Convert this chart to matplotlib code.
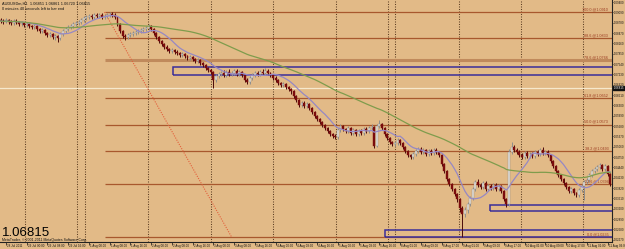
import matplotlib
matplotlib.use("Agg")
import matplotlib.pyplot as plt
import matplotlib.transforms as mtransforms
from matplotlib.patches import Rectangle
import pandas as pd

# ---------------- data ----------------
FIRST_OPEN = 1.0886
CLOSE = [
    1.0883, 1.0880, 1.0886, 1.0880, 1.0877, 1.0883, 1.0880, 1.0874, 1.0877, 1.0871,
    1.0874, 1.0868, 1.0865, 1.0868, 1.0859, 1.0853, 1.0856, 1.0847, 1.0841, 1.0844,
    1.0835, 1.0838, 1.0832, 1.0844, 1.0853, 1.0859, 1.0865, 1.0868, 1.0874, 1.0877,
    1.0880, 1.0886, 1.0892, 1.0895, 1.0898, 1.0895, 1.0901, 1.0898, 1.0901, 1.0895,
    1.0898, 1.0901, 1.0904, 1.0901, 1.0895, 1.0874, 1.0853, 1.0838, 1.0835, 1.0841,
    1.0844, 1.0847, 1.0850, 1.0853, 1.0856, 1.0859, 1.0862, 1.0868, 1.0859, 1.0847,
    1.0835, 1.0823, 1.0814, 1.0805, 1.0799, 1.0793, 1.0796, 1.0790, 1.0787, 1.0781,
    1.0784, 1.0778, 1.0772, 1.0775, 1.0769, 1.0763, 1.0766, 1.0757, 1.0751, 1.0742,
    1.0736, 1.0730, 1.0706, 1.0718, 1.0724, 1.0727, 1.0721, 1.0730, 1.0724, 1.0727,
    1.0733, 1.0724, 1.0730, 1.0721, 1.0706, 1.0700, 1.0712, 1.0721, 1.0727, 1.0724,
    1.0730, 1.0727, 1.0733, 1.0727, 1.0721, 1.0712, 1.0706, 1.0697, 1.0691, 1.0694,
    1.0685, 1.0679, 1.0673, 1.0658, 1.0646, 1.0631, 1.0637, 1.0628, 1.0634, 1.0622,
    1.0610, 1.0598, 1.0589, 1.0580, 1.0571, 1.0562, 1.0553, 1.0544, 1.0538, 1.0535,
    1.0556, 1.0568, 1.0559, 1.0553, 1.0562, 1.0547, 1.0556, 1.0544, 1.0553, 1.0547,
    1.0559, 1.0553, 1.0562, 1.0565, 1.0508, 1.0568, 1.0574, 1.0562, 1.0544, 1.0532,
    1.0520, 1.0514, 1.0517, 1.0526, 1.0517, 1.0505, 1.0493, 1.0481, 1.0475, 1.0484,
    1.0493, 1.0499, 1.0490, 1.0496, 1.0484, 1.0493, 1.0487, 1.0496, 1.0490, 1.0481,
    1.0454, 1.0433, 1.0409, 1.0394, 1.0379, 1.0364, 1.0349, 1.0322, 1.0304, 1.0316,
    1.0334, 1.0352, 1.0379, 1.0400, 1.0391, 1.0385, 1.0397, 1.0379, 1.0388, 1.0382,
    1.0391, 1.0379, 1.0388, 1.0373, 1.0349, 1.0334, 1.0490, 1.0505, 1.0496, 1.0490,
    1.0481, 1.0475, 1.0487, 1.0478, 1.0484, 1.0478, 1.0490, 1.0484, 1.0496, 1.0487,
    1.0490, 1.0481, 1.0463, 1.0448, 1.0433, 1.0421, 1.0409, 1.0397, 1.0385, 1.0373,
    1.0379, 1.0367, 1.0361, 1.0376, 1.0388, 1.0400, 1.0406, 1.0421, 1.0433, 1.0439,
    1.0445, 1.0451, 1.0439, 1.0448, 1.0424, 1.0394,
]
HIGH = [
    1.0892, 1.0889, 1.0892, 1.0890, 1.0886, 1.0889, 1.0889, 1.0884, 1.0883, 1.0881,
    1.0880, 1.0878, 1.0872, 1.0874, 1.0871, 1.0862, 1.0862, 1.0859, 1.0850, 1.0850,
    1.0847, 1.0844, 1.0841, 1.0850, 1.0859, 1.0865, 1.0871, 1.0874, 1.0880, 1.0883,
    1.0886, 1.0892, 1.0898, 1.0901, 1.0904, 1.0904, 1.0907, 1.0907, 1.0907, 1.0907,
    1.0904, 1.0907, 1.0910, 1.0910, 1.0907, 1.0898, 1.0877, 1.0856, 1.0844, 1.0847,
    1.0850, 1.0853, 1.0856, 1.0859, 1.0862, 1.0865, 1.0868, 1.0874, 1.0871, 1.0862,
    1.0850, 1.0838, 1.0826, 1.0817, 1.0811, 1.0802, 1.0802, 1.0799, 1.0796, 1.0790,
    1.0790, 1.0787, 1.0781, 1.0781, 1.0778, 1.0772, 1.0772, 1.0769, 1.0760, 1.0754,
    1.0745, 1.0739, 1.0733, 1.0724, 1.0730, 1.0733, 1.0736, 1.0736, 1.0739, 1.0733,
    1.0739, 1.0739, 1.0736, 1.0733, 1.0724, 1.0712, 1.0718, 1.0727, 1.0733, 1.0733,
    1.0736, 1.0739, 1.0742, 1.0739, 1.0730, 1.0724, 1.0718, 1.0709, 1.0700, 1.0700,
    1.0697, 1.0688, 1.0682, 1.0676, 1.0661, 1.0649, 1.0643, 1.0643, 1.0640, 1.0637,
    1.0625, 1.0613, 1.0601, 1.0592, 1.0583, 1.0574, 1.0565, 1.0556, 1.0547, 1.0544,
    1.0562, 1.0574, 1.0571, 1.0562, 1.0568, 1.0565, 1.0562, 1.0559, 1.0559, 1.0559,
    1.0565, 1.0565, 1.0568, 1.0574, 1.0568, 1.0574, 1.0586, 1.0577, 1.0565, 1.0547,
    1.0535, 1.0523, 1.0523, 1.0532, 1.0529, 1.0520, 1.0508, 1.0496, 1.0484, 1.0490,
    1.0499, 1.0505, 1.0505, 1.0502, 1.0499, 1.0499, 1.0499, 1.0502, 1.0502, 1.0493,
    1.0484, 1.0457, 1.0436, 1.0412, 1.0397, 1.0382, 1.0367, 1.0352, 1.0328, 1.0325,
    1.0340, 1.0358, 1.0385, 1.0406, 1.0409, 1.0397, 1.0403, 1.0403, 1.0394, 1.0394,
    1.0397, 1.0397, 1.0394, 1.0391, 1.0376, 1.0352, 1.0499, 1.0520, 1.0511, 1.0502,
    1.0496, 1.0487, 1.0493, 1.0493, 1.0490, 1.0490, 1.0496, 1.0496, 1.0502, 1.0505,
    1.0496, 1.0496, 1.0484, 1.0466, 1.0451, 1.0436, 1.0424, 1.0412, 1.0400, 1.0388,
    1.0385, 1.0382, 1.0370, 1.0382, 1.0394, 1.0406, 1.0412, 1.0427, 1.0439, 1.0445,
    1.0451, 1.0457, 1.0454, 1.0454, 1.0451, 1.0427,
]
LOW = [
    1.0877, 1.0874, 1.0877, 1.0874, 1.0871, 1.0871, 1.0874, 1.0868, 1.0868, 1.0865,
    1.0865, 1.0862, 1.0859, 1.0859, 1.0853, 1.0847, 1.0847, 1.0841, 1.0835, 1.0835,
    1.0829, 1.0826, 1.0820, 1.0826, 1.0838, 1.0847, 1.0853, 1.0859, 1.0862, 1.0868,
    1.0871, 1.0874, 1.0880, 1.0886, 1.0889, 1.0889, 1.0889, 1.0892, 1.0892, 1.0889,
    1.0889, 1.0892, 1.0895, 1.0895, 1.0889, 1.0868, 1.0847, 1.0832, 1.0826, 1.0829,
    1.0835, 1.0838, 1.0841, 1.0844, 1.0847, 1.0850, 1.0853, 1.0856, 1.0853, 1.0841,
    1.0829, 1.0817, 1.0808, 1.0799, 1.0793, 1.0787, 1.0787, 1.0784, 1.0781, 1.0775,
    1.0775, 1.0772, 1.0766, 1.0766, 1.0763, 1.0757, 1.0757, 1.0751, 1.0745, 1.0736,
    1.0730, 1.0724, 1.0682, 1.0700, 1.0712, 1.0718, 1.0715, 1.0715, 1.0718, 1.0718,
    1.0721, 1.0718, 1.0718, 1.0715, 1.0700, 1.0694, 1.0694, 1.0706, 1.0715, 1.0718,
    1.0718, 1.0721, 1.0721, 1.0721, 1.0715, 1.0706, 1.0700, 1.0691, 1.0685, 1.0685,
    1.0679, 1.0673, 1.0664, 1.0652, 1.0640, 1.0625, 1.0625, 1.0622, 1.0622, 1.0616,
    1.0604, 1.0592, 1.0583, 1.0574, 1.0565, 1.0556, 1.0547, 1.0538, 1.0532, 1.0529,
    1.0529, 1.0550, 1.0553, 1.0547, 1.0547, 1.0541, 1.0541, 1.0538, 1.0538, 1.0541,
    1.0541, 1.0547, 1.0547, 1.0556, 1.0502, 1.0505, 1.0562, 1.0556, 1.0538, 1.0526,
    1.0514, 1.0508, 1.0508, 1.0511, 1.0511, 1.0499, 1.0487, 1.0475, 1.0469, 1.0469,
    1.0478, 1.0487, 1.0484, 1.0484, 1.0478, 1.0478, 1.0481, 1.0481, 1.0484, 1.0475,
    1.0448, 1.0427, 1.0403, 1.0388, 1.0373, 1.0358, 1.0340, 1.0310, 1.0235, 1.0295,
    1.0307, 1.0328, 1.0346, 1.0373, 1.0385, 1.0379, 1.0379, 1.0373, 1.0373, 1.0376,
    1.0376, 1.0373, 1.0373, 1.0367, 1.0343, 1.0325, 1.0328, 1.0484, 1.0490, 1.0484,
    1.0475, 1.0469, 1.0469, 1.0472, 1.0472, 1.0472, 1.0472, 1.0478, 1.0478, 1.0481,
    1.0481, 1.0475, 1.0457, 1.0442, 1.0427, 1.0415, 1.0403, 1.0391, 1.0379, 1.0367,
    1.0367, 1.0361, 1.0355, 1.0355, 1.0370, 1.0346, 1.0394, 1.0400, 1.0415, 1.0427,
    1.0433, 1.0439, 1.0433, 1.0433, 1.0418, 1.0388,
]
OPEN = [FIRST_OPEN] + CLOSE[:-1]

X_LABELS = [
    "28 Jul 2011", "29 Jul 00:00", "29 Jul 08:00", "29 Jul 16:00",
    "1 Aug 00:00", "1 Aug 08:00", "1 Aug 16:00", "2 Aug 00:00", "2 Aug 08:00",
    "2 Aug 16:00", "3 Aug 00:00", "3 Aug 08:00", "3 Aug 16:00", "4 Aug 00:00",
    "4 Aug 08:00", "4 Aug 16:00", "5 Aug 00:00", "5 Aug 08:00", "5 Aug 16:00",
    "8 Aug 01:00", "8 Aug 09:00", "8 Aug 17:00", "9 Aug 01:00", "9 Aug 09:00",
    "9 Aug 17:00", "10 Aug 01:00", "10 Aug 09:00", "10 Aug 17:00",
    "11 Aug 01:00", "11 Aug 09:00",
]
SEPARATORS = [9.5, 29.4, 32.4, 56.8, 81.2, 104.9, 129.2, 149.3, 152.1, 176.7, 200.6, 224.5]

FIB_LEVELS = [0.0, 23.6, 38.2, 50.0, 61.8, 78.6, 88.6, 100.0]
FIB_HIGH = 1.0910
FIB_LOW = 1.0235
FIB_BAR_HIGH = 40
FIB_BAR_LOW = 89

RECT_LEFT = [66.5, 188.5, 148.0]
RECT_BOTTOM = [1.0721, 1.0314, 1.0235]
RECT_TOP = [1.0745, 1.0331, 1.0256]

BID = 1.06815
SYMBOL_LINE = "AUDUSDm,H1  1.06851 1.06861 1.06720 1.06815"
TIMER_LINE = "0 minutes 40 seconds left to bar end"
COPYRIGHT = "MetaTrader, \u00a9 2001-2011 MetaQuotes Software Corp."
Y_TOP_TICK = 1.0940
Y_TICK_STEP = 0.0031

# ---------------- style ----------------
BG = "#E2BA87"
BEAR = "#7A0C0C"
BULL_FACE = "#E6E0D6"
BULL_EDGE = "#8E8E8E"
FIB_COLOR = "#A8582E"
BOX_COLOR = "#3A2E9A"
SMALL_FONT = "Liberation Sans"

W, H, DPI = 625, 249, 100
fig = plt.figure(figsize=(W / DPI, H / DPI), dpi=DPI, facecolor=BG)
ax_l, ax_r = 0.0, 612 / W
ax_b, ax_t = 7 / H, 1.0
ax = fig.add_axes([ax_l, ax_b, ax_r - ax_l, ax_t - ax_b], facecolor=BG)

n = len(CLOSE)
x = list(range(n))
ax.set_xlim(-0.3, 235.7)
ax.set_ylim(1.0220, 1.0946)

# period separators
for s in SEPARATORS:
    ax.axvline(s, color="#5E4024", lw=0.75, ls=(0, (1, 1.4)), zorder=1)

# bid line
ax.axhline(BID, color="#F6E8CC", lw=0.9, zorder=1)

# fibonacci
rng = FIB_HIGH - FIB_LOW
for lvl in FIB_LEVELS:
    p = FIB_LOW + rng * lvl / 100.0
    thick = lvl in (78.6,)
    ax.plot([FIB_BAR_HIGH, 240], [p, p], color="#C08A5C" if thick else FIB_COLOR,
            lw=2.2 if thick else 0.9, zorder=2, solid_capstyle="butt")
    ax.text(234.3, p + 0.0002, f"{lvl:.1f} @{p:.4f}", ha="right", va="bottom",
            fontsize=2.7, color="#9A3A20", zorder=6, family=SMALL_FONT)
ax.plot([FIB_BAR_HIGH, FIB_BAR_LOW], [FIB_HIGH, FIB_LOW], color="#E2603C",
        lw=0.8, ls=(0, (1, 1.2)), zorder=2)

# rectangles
for lft, bot, top in zip(RECT_LEFT, RECT_BOTTOM, RECT_TOP):
    ax.add_patch(Rectangle((lft, bot), 260 - lft, top - bot, fill=False,
                           edgecolor=BOX_COLOR, lw=1.1, zorder=3))

# candles
for i in x:
    o, c, hi, lo = OPEN[i], CLOSE[i], HIGH[i], LOW[i]
    up = c >= o
    ax.vlines(i, lo, hi, color=BULL_EDGE if up else "#4A0A0A", lw=0.7, zorder=4)
    body = max(abs(c - o), 0.00008)
    ax.bar(i, body, bottom=min(o, c), width=0.75,
           color=BULL_FACE if up else BEAR,
           edgecolor=BULL_EDGE if up else BEAR, lw=0.3, zorder=5)

# moving averages
cs = pd.Series(CLOSE)
ax.plot(x, cs.rolling(10, min_periods=1).mean(), color="#9688C4", lw=0.9, zorder=6)
ax.plot(x, cs.rolling(50, min_periods=1).mean(), color="#7F9C4C", lw=0.9, zorder=6)

# axes styling
for sp in ["top", "left"]:
    ax.spines[sp].set_visible(False)
ax.spines["right"].set_color("#222222")
ax.spines["bottom"].set_color("#222222")
ax.spines["right"].set_linewidth(0.8)
ax.spines["bottom"].set_linewidth(0.8)

yt = [round(Y_TOP_TICK - Y_TICK_STEP * k, 5) for k in range(24)]
ax.yaxis.tick_right()
ax.set_yticks(yt)
ax.set_yticklabels([f"{v:.5f}" for v in yt], family=SMALL_FONT)
ax.tick_params(axis="y", labelsize=2.05, length=1.0, width=0.5, pad=0.3, colors="#111111")

label_bars = list(range(2, 2 + 8 * len(X_LABELS), 8))
ax.set_xticks(label_bars)
ax.set_xticklabels([])
ax.tick_params(axis="x", length=1.8, width=0.5, colors="#111111")
trans = mtransforms.blended_transform_factory(ax.transData, fig.transFigure)
for b, lab in zip(label_bars, X_LABELS):
    ax.text(b + 0.4, 3.0 / H, lab, transform=trans, ha="left", va="center",
            fontsize=2.2, color="#111111", clip_on=False, family=SMALL_FONT)

# bid label on price scale
fig.text(613.3 / W, 1 - 88 / H, f"{BID:.5f}", fontsize=2.05, color="white",
         ha="left", va="center", family=SMALL_FONT,
         bbox=dict(boxstyle="square,pad=0.15", fc="#111111", ec="#111111"))

# texts
fig.text(2 / W, 1 - 3.5 / H, SYMBOL_LINE, fontsize=2.8, color="#111111", ha="left",
         va="center", family=SMALL_FONT)
fig.text(2 / W, 1 - 8.5 / H, TIMER_LINE, fontsize=2.8, color="#111111", ha="left",
         va="center", family=SMALL_FONT)
fig.text(2 / W, 1 - 236 / H, f"{BID:.5f}", fontsize=9.5, color="#000000", ha="left",
         va="baseline", family="Liberation Sans")
fig.text(2 / W, 1 - 240.3 / H, COPYRIGHT, fontsize=2.5, color="#111111", ha="left",
         va="center", family=SMALL_FONT)

fig.savefig("out.png", dpi=DPI, facecolor=BG)
